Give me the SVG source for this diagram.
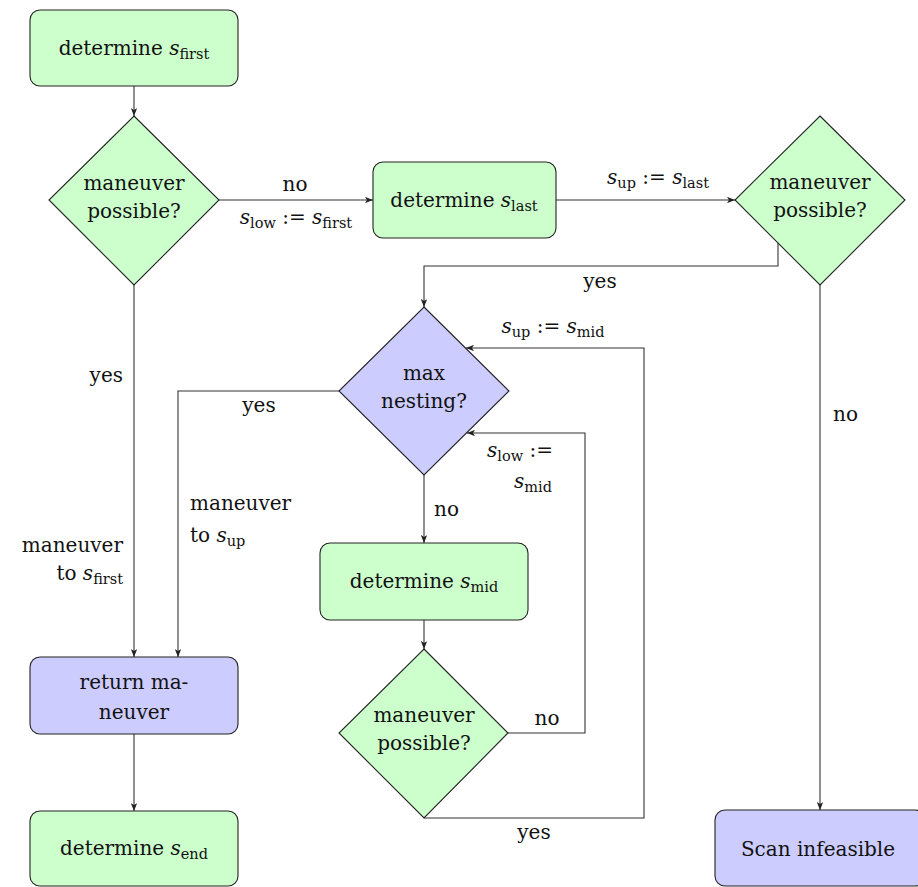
<svg xmlns="http://www.w3.org/2000/svg" width="918" height="887" viewBox="0 0 918 887">
  <defs>
    <marker id="ah" viewBox="0 0 10 8" refX="10" refY="4" markerWidth="8" markerHeight="6.4" orient="auto" markerUnits="userSpaceOnUse">
      <path d="M0,0 L10,4 L0,8 L2.5,4 z" fill="#222"/>
    </marker>
  </defs>
  <style>
    .g { fill: #ccffcc; stroke: #222; stroke-width: 1.1; }
    .b { fill: #ccccff; stroke: #222; stroke-width: 1.1; }
    .c { fill: none; stroke: #333; stroke-width: 1.1; marker-end: url(#ah); }
    text { font-family: "DejaVu Serif", "Liberation Serif", serif; font-size: 20px; fill: #111; }
    .mid { text-anchor: middle; }
    .end { text-anchor: end; }
    .m { font-style: italic; }
    .sub { font-size: 14.5px; }
  </style>
  <rect width="918" height="887" fill="#ffffff"/>

  <!-- connectors -->
  <g id="connectors">
    <path class="c" d="M134,86 V116"/>
    <path class="c" d="M219,200 H373"/>
    <path class="c" d="M556,200 H735"/>
    <path class="c" d="M778,243 V266 H424 V307"/>
    <path class="c" d="M339,391 H178 V657"/>
    <path class="c" d="M134,285 V657"/>
    <path class="c" d="M134,734 V811"/>
    <path class="c" d="M424,475 V543"/>
    <path class="c" d="M424,620 V649"/>
    <path class="c" d="M508,733 H585 V433 H467"/>
    <path class="c" d="M424,818 H644 V348 H466"/>
    <path class="c" d="M820,285 V810"/>
  </g>

  <!-- connector labels -->
  <g id="labels">
    <text class="mid" x="295" y="191">no</text>
    <text class="mid" x="296" y="224"><tspan class="m">s</tspan><tspan class="sub" dy="4">low</tspan><tspan dy="-4"> := </tspan><tspan class="m">s</tspan><tspan class="sub" dy="4">first</tspan></text>
    <text class="mid" x="658" y="184"><tspan class="m">s</tspan><tspan class="sub" dy="4">up</tspan><tspan dy="-4"> := </tspan><tspan class="m">s</tspan><tspan class="sub" dy="4">last</tspan></text>
    <text class="mid" x="600" y="288">yes</text>
    <text class="mid" x="553" y="333"><tspan class="m">s</tspan><tspan class="sub" dy="4">up</tspan><tspan dy="-4"> := </tspan><tspan class="m">s</tspan><tspan class="sub" dy="4">mid</tspan></text>
    <text x="487" y="457"><tspan class="m">s</tspan><tspan class="sub" dy="4">low</tspan><tspan dy="-4"> :=</tspan></text>
    <text x="514" y="488"><tspan class="m">s</tspan><tspan class="sub" dy="4">mid</tspan></text>
    <text class="end" x="123" y="382">yes</text>
    <text class="mid" x="259" y="412">yes</text>
    <text x="190" y="510">maneuver</text>
    <text x="190" y="542">to <tspan class="m">s</tspan><tspan class="sub" dy="4">up</tspan></text>
    <text class="end" x="123" y="552">maneuver</text>
    <text class="end" x="123" y="580">to <tspan class="m">s</tspan><tspan class="sub" dy="4">first</tspan></text>
    <text x="434" y="516">no</text>
    <text class="mid" x="547" y="725">no</text>
    <text class="mid" x="534" y="839">yes</text>
    <text x="833" y="421">no</text>
  </g>

  <!-- nodes -->
  <g id="det-first">
    <rect class="g" x="30" y="10" width="208" height="76" rx="10"/>
    <text class="mid" x="134" y="55">determine <tspan class="m">s</tspan><tspan class="sub" dy="4">first</tspan></text>
  </g>
  <g id="possible-1">
    <polygon class="g" points="134,116 219,200 134,285 49,200"/>
    <text class="mid" x="134" y="190">maneuver</text>
    <text class="mid" x="134" y="218">possible?</text>
  </g>
  <g id="det-last">
    <rect class="g" x="373" y="162" width="183" height="76" rx="10"/>
    <text class="mid" x="464" y="207">determine <tspan class="m">s</tspan><tspan class="sub" dy="4">last</tspan></text>
  </g>
  <g id="possible-2">
    <polygon class="g" points="820,116 905,200 820,285 735,200"/>
    <text class="mid" x="820" y="189">maneuver</text>
    <text class="mid" x="820" y="217">possible?</text>
  </g>
  <g id="max-nesting">
    <polygon class="b" points="424,307 509,391 424,475 339,391"/>
    <text class="mid" x="424" y="380">max</text>
    <text class="mid" x="424" y="408">nesting?</text>
  </g>
  <g id="det-mid">
    <rect class="g" x="320" y="543" width="208" height="77" rx="10"/>
    <text class="mid" x="424" y="588">determine <tspan class="m">s</tspan><tspan class="sub" dy="4">mid</tspan></text>
  </g>
  <g id="possible-3">
    <polygon class="g" points="424,649 508,733 424,818 339,733"/>
    <text class="mid" x="424" y="722">maneuver</text>
    <text class="mid" x="424" y="750">possible?</text>
  </g>
  <g id="return-maneuver">
    <rect class="b" x="30" y="657" width="208" height="77" rx="10"/>
    <text class="mid" x="134" y="689">return ma-</text>
    <text class="mid" x="134" y="719">neuver</text>
  </g>
  <g id="det-end">
    <rect class="g" x="30" y="811" width="208" height="75" rx="10"/>
    <text class="mid" x="134" y="855">determine <tspan class="m">s</tspan><tspan class="sub" dy="4">end</tspan></text>
  </g>
  <g id="scan-infeasible">
    <rect class="b" x="715" y="810" width="210" height="76" rx="10"/>
    <text class="mid" x="818" y="856">Scan infeasible</text>
  </g>
</svg>
